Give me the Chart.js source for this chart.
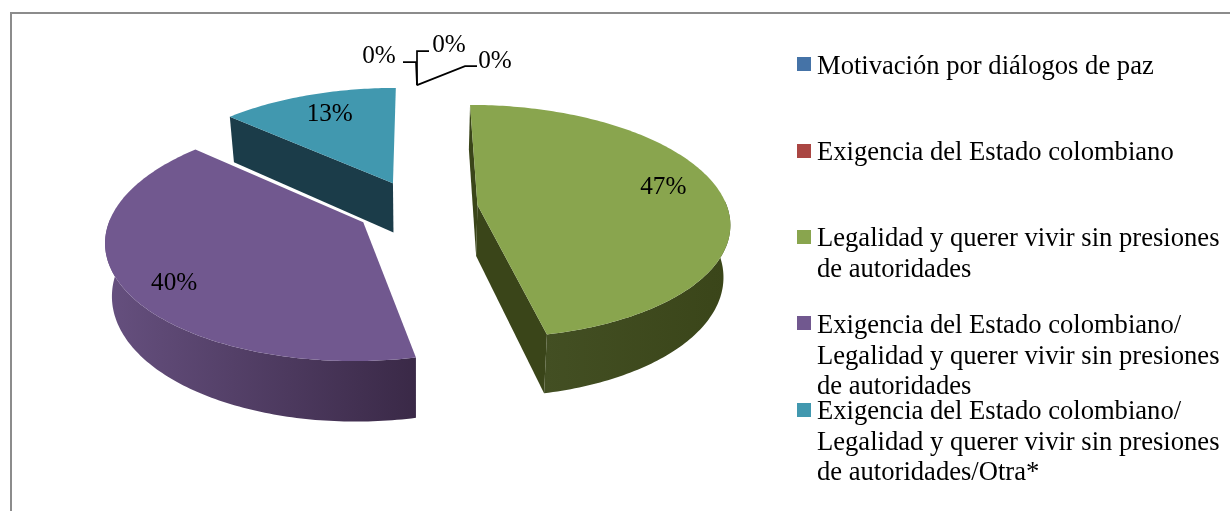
<!DOCTYPE html>
<html><head><meta charset="utf-8">
<style>html,body{margin:0;padding:0;background:#fff;overflow:hidden}#wrap{position:absolute;left:0;top:0;width:1230px;height:511px}</style>
<script src="https://cdn.jsdelivr.net/npm/chart.js@4/dist/chart.umd.min.js"></script>
</head><body><div id="wrap"><canvas id="c" width="1230" height="511"></canvas></div>
<script>
const categories = [
  ["Motivación por diálogos de paz"],
  ["Exigencia del Estado colombiano"],
  ["Legalidad y querer vivir sin presiones","de autoridades"],
  ["Exigencia del Estado colombiano/","Legalidad y querer vivir sin presiones","de autoridades"],
  ["Exigencia del Estado colombiano/","Legalidad y querer vivir sin presiones","de autoridades/Otra*"]
];
const values = [0, 0, 46.67, 40, 13.33, 0];
const topColors = ["#4573A7","#AA4643","#89A54E","#71588F","#4198AF","#DB843D"];
const wallDark = ["#26405e","#5e2725","#3a4519","#3a2947","#1b3c49","#7a4a22"];
const wallLight = ["#26405e","#5e2725","#434f23","#66507f","#1b3c49","#7a4a22"];

const FONT = '26.6px "Liberation Serif"', LABEL_FONT = '25.2px "Liberation Serif"';
const PERSP = 0.14, TILT = 0.46, DEPTH = 51, SHRINK = 0.022;

function proj(a, X, Y, h){
  const s = 1/(1 - PERSP*Y/a.outerRadius);
  return [a.x + X*s*(1 - SHRINK*h), a.y + Y*TILT*s + h*DEPTH*s];
}
function slicePts(a){
  const t0=a.startAngle+Math.PI/2, t1=a.endAngle+Math.PI/2, mid=(t0+t1)/2, off=a.options.offset;
  const ox=off*Math.sin(mid), oy=-off*Math.cos(mid), R=a.outerRadius, n=Math.max(2,Math.ceil((t1-t0)*60));
  const rim=[];
  for(let i=0;i<=n;i++){const t=t0+(t1-t0)*i/n; rim.push([ox+R*Math.sin(t), oy-R*Math.cos(t)]);}
  return {ox,oy,rim};
}
function poly(ctx,pts,fill){
  ctx.beginPath(); pts.forEach((p,i)=>i?ctx.lineTo(p[0],p[1]):ctx.moveTo(p[0],p[1])); ctx.closePath();
  ctx.fillStyle=fill; ctx.fill();
}
const pie3d = {
  id:'pie3d',
  beforeDatasetsDraw(chart){
    const ctx=chart.ctx, arcs=chart.getDatasetMeta(0).data;
    ctx.save();
    ctx.strokeStyle='#8c8c8c'; ctx.lineWidth=2;
    ctx.beginPath(); ctx.moveTo(11,511); ctx.lineTo(11,13); ctx.lineTo(1230,13); ctx.stroke();
    [4,3,2].forEach(i=>{
      const a=arcs[i], {ox,oy,rim}=slicePts(a), col=topColors[i];
      const top=[proj(a,ox,oy,0),...rim.map(p=>proj(a,p[0],p[1],0))];
      const apexB=proj(a,ox,oy,1);
      [rim[0],rim[rim.length-1]].forEach((e,j)=>{
        const A=proj(a,ox,oy,0),B=proj(a,e[0],e[1],0);
        const cross=(B[0]-A[0]);
        const visible = j===0 ? cross<0 : cross>8;
        if(!visible) return;
        poly(ctx,[A,B,proj(a,e[0],e[1],1),apexB],wallDark[i]);
      });
      const front=rim.filter((p,k)=>{const t=a.startAngle+Math.PI/2+(a.endAngle-a.startAngle)*k/(rim.length-1);return Math.cos(t)<0.05;});
      if(front.length>1){
        const up=front.map(p=>proj(a,p[0],p[1],0)), low=front.map(p=>proj(a,p[0],p[1],1)).reverse();
        const xs=[...up,...low].map(p=>p[0]), x0=Math.min(...xs), x1=Math.max(...xs);
        const g=ctx.createLinearGradient(x0,0,x1,0);
        g.addColorStop(0,wallLight[i]);g.addColorStop(1,wallDark[i]);
        poly(ctx,[...up,...low],g);
      }
      poly(ctx,top,col);
    });
    const anchor=(()=>{const a=arcs[0], t=a.startAngle+Math.PI/2, r=a.outerRadius+a.options.offset;const p=proj(a,r*Math.sin(t),-r*Math.cos(t),0);return [p[0],p[1]-1];})();
    ctx.strokeStyle='#000'; ctx.lineWidth=1.7; ctx.lineJoin='miter';
    [[[-14,-23],[-1,-23]],[[12,-34],[0,-34]],[[60,-19],[48,-19]]].forEach(([e,k])=>{
      ctx.beginPath(); ctx.moveTo(anchor[0]+e[0],anchor[1]+e[1]); ctx.lineTo(anchor[0]+k[0],anchor[1]+k[1]); ctx.lineTo(anchor[0],anchor[1]); ctx.stroke();
    });
    ctx.fillStyle='#000'; ctx.font=LABEL_FONT; ctx.textAlign='center'; ctx.textBaseline='alphabetic';
    const total=values.reduce((s,v)=>s+v,0);
    const zeroPos={0:[-38,-30],1:[32,-41],5:[78,-25]};
    const nudge={2:[10,-11],3:[-19,15],4:[0,-5]};
    values.forEach((v,i)=>{
      const a=arcs[i], txt=Math.round(v/total*100)+'%';
      if(zeroPos[i]){ ctx.fillText(txt,anchor[0]+zeroPos[i][0],anchor[1]+zeroPos[i][1]+8); return; }
      const {ox,oy}=slicePts(a), t=(a.startAngle+a.endAngle)/2+Math.PI/2, r=a.outerRadius*0.72;
      const p=proj(a,ox+r*Math.sin(t),oy-r*Math.cos(t),0);
      ctx.fillText(txt,p[0]+nudge[i][0],p[1]+nudge[i][1]+8);
    });
    const swatchTop=[57,144,230,316,403], baseline=[74,160,246,333,419];
    ctx.font=FONT; ctx.textAlign='left';
    categories.forEach((lines,i)=>{
      ctx.fillStyle=topColors[i]; ctx.fillRect(797,swatchTop[i],14,14);
      ctx.fillStyle='#000';
      lines.forEach((l,j)=>ctx.fillText(l,817,baseline[i]+j*30.5));
    });
    ctx.restore();
    return false;
  }
};
new Chart(document.getElementById('c'),{
  type:'pie',
  data:{labels:[...categories,"Otra"],datasets:[{data:values,backgroundColor:topColors,offset:61,borderWidth:0}]},
  options:{responsive:false,animation:false,events:[],radius:250,
    layout:{padding:{left:167,right:563,top:0,bottom:95}},
    plugins:{legend:{display:false},tooltip:{enabled:false}}},
  plugins:[pie3d]
});
</script></body></html>
